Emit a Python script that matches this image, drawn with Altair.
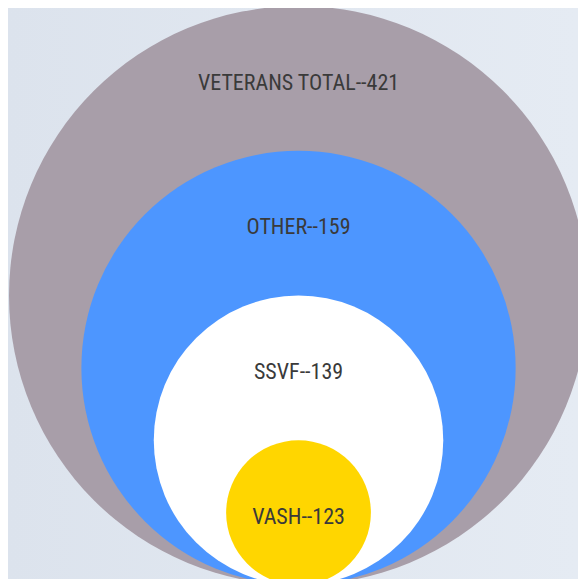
import altair as alt
import pandas as pd

names = ["VETERANS TOTAL", "OTHER", "SSVF", "VASH"]
values = [421, 159, 139, 123]
levels = [4, 3, 2, 1]
colors = ["#a89ea9", "#4d96ff", "#ffffff", "#ffd600"]

df = pd.DataFrame({"name": names, "value": values, "level": levels, "color": colors})
df["label"] = df["name"] + "--" + df["value"].astype(str)

W, H = 570, 571
UNIT = 72.375  # px per level unit

xs = alt.Scale(domain=[-4.014, -4.014 + W / UNIT], nice=False, zero=False)
ys = alt.Scale(domain=[0.083, 0.083 + H / UNIT], nice=False, zero=False)

bg = alt.Chart(pd.DataFrame({"k": [0]})).mark_rect(
    color=alt.LinearGradient(
        gradient="linear",
        stops=[alt.GradientStop(color="#dce3ed", offset=0), alt.GradientStop(color="#e5ebf3", offset=1)],
        x1=0, x2=1, y1=0, y2=0,
    )
).encode(x=alt.value(0), x2=alt.value("width"), y=alt.value(0), y2=alt.value("height"))

base = alt.Chart(df).transform_calculate(cx="0", cy="datum.level", ty="2*datum.level - 1.06")

circles = base.mark_circle(opacity=1, strokeWidth=0).encode(
    x=alt.X("cx:Q", scale=xs, axis=None),
    y=alt.Y("cy:Q", scale=ys, axis=None),
    size=alt.Size("level:Q", scale=alt.Scale(type="pow", exponent=2, domain=[0, 4], range=[0, (8 * UNIT) ** 2]), legend=None),
    color=alt.Color("color:N", scale=None),
    order=alt.Order("level:Q", sort="descending"),
)

labels = base.mark_text(font="Liberation Sans Narrow, Roboto Condensed, Roboto", fontSize=22, color="#3a3a3a",
                        baseline="middle", align="center").encode(
    x=alt.X("cx:Q", scale=xs, axis=None),
    y=alt.Y("ty:Q", scale=ys, axis=None),
    text="label:N",
)

chart = alt.layer(bg, circles, labels).properties(
    width=W, height=H, padding=0, autosize=alt.AutoSizeParams(type="none"), background="#e0e7f0"
).configure_view(stroke=None)

chart.save("out.html", embed_options={"renderer": "svg", "actions": False})
